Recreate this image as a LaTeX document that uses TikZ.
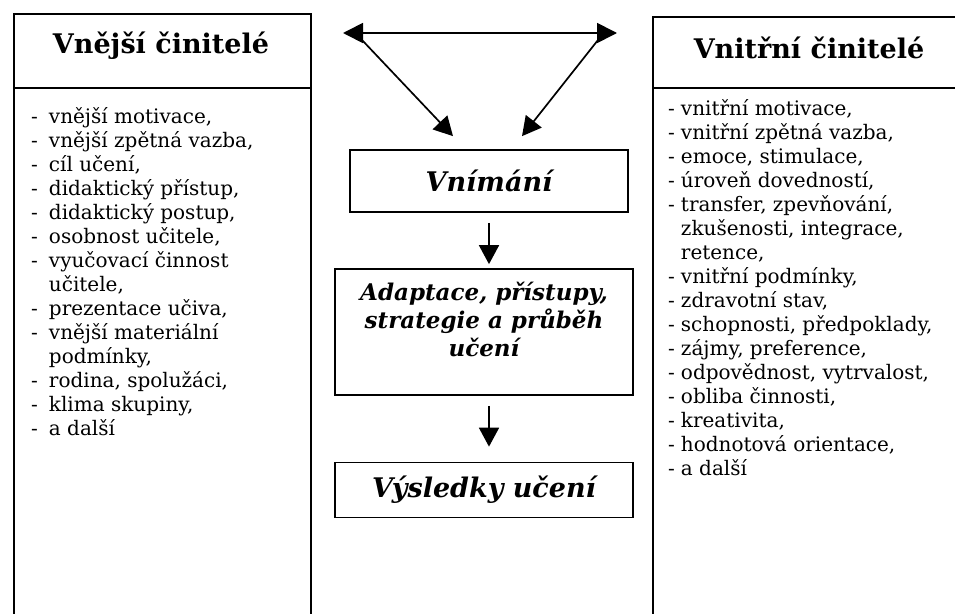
\documentclass[tikz,border=0pt]{standalone}
\usepackage{fontspec}
\setmainfont{DejaVu Serif}
\usetikzlibrary{arrows.meta, positioning}

\tikzset{
  frame/.style={draw, line width=1.7pt},
  headtext/.style={font=\fontsize{27}{30}\selectfont\bfseries, inner sep=0pt},
  listtext/.style={anchor=north west, inner sep=0pt, font=\fontsize{20}{24}\selectfont},
  midbox/.style={draw, line width=1.7pt, align=center, font=\fontsize{23}{28}\selectfont\bfseries\itshape},
  flow/.style={-{Triangle[length=19pt,width=20pt]}, line width=1.7pt}
}

\begin{document}
\begin{tikzpicture}[x=1pt, y=-1pt]

\useasboundingbox (0,0) rectangle (955,613);

% -------- Left column: external factors --------
\node[frame, minimum width=297pt, minimum height=640pt, anchor=north west] (extbox) at (13,13) {};
\draw[line width=1.7pt] (13,88) -- (310,88);
\node[headtext] (exthead) at (161,46) {Vnější činitelé};
\node[listtext] (extlist) at (31,106)
{\begin{tabular}{@{}l@{\hspace{11pt}}l@{}}
- & vnější motivace,\\
- & vnější zpětná vazba,\\
- & cíl učení,\\
- & didaktický přístup,\\
- & didaktický postup,\\
- & osobnost učitele,\\
- & vyučovací činnost\\
  & učitele,\\
- & prezentace učiva,\\
- & vnější materiální\\
  & podmínky,\\
- & rodina, spolužáci,\\
- & klima skupiny,\\
- & a další
\end{tabular}};

% -------- Right column: internal factors --------
\node[frame, minimum width=314pt, minimum height=640pt, anchor=north west] (intbox) at (652,16) {};
\draw[line width=1.7pt] (652,88) -- (966,88);
\node[headtext] (inthead) at (809,48) {Vnitřní činitelé};
\node[listtext] (intlist) at (668,98)
{\begin{tabular}{@{}l@{\hspace{6pt}}l@{}}
- & vnitřní motivace,\\
- & vnitřní zpětná vazba,\\
- & emoce, stimulace,\\
- & úroveň dovedností,\\
- & transfer, zpevňování,\\
  & zkušenosti, integrace,\\
  & retence,\\
- & vnitřní podmínky,\\
- & zdravotní stav,\\
- & schopnosti, předpoklady,\\
- & zájmy, preference,\\
- & odpovědnost, vytrvalost,\\
- & obliba činnosti,\\
- & kreativita,\\
- & hodnotová orientace,\\
- & a další
\end{tabular}};

% -------- Middle: process --------
\node[midbox, minimum width=278pt, minimum height=62pt, font=\fontsize{27}{30}\selectfont\bfseries\itshape] (vnim) at (489,181) {Vnímání};
\node[midbox, minimum width=298pt, minimum height=126pt] (adapt) at (484,332)
{Adaptace, přístupy,\\strategie a průběh\\učení\\[-10pt]\strut};
\node[midbox, minimum width=298pt, minimum height=55pt, font=\fontsize{27}{30}\selectfont\bfseries\itshape] (vysl) at (484,490) {Výsledky učení};

% -------- Arrows --------
\coordinate (extend) at (343,33);
\coordinate (intend) at (617,33);
\coordinate (extfoot) at (362,40);
\coordinate (intfoot) at (598,40);
\coordinate (vinL) at ([xshift=-36pt,yshift=13pt]vnim.north);
\coordinate (vinR) at ([xshift=33pt,yshift=13pt]vnim.north);

\draw[flow, {Triangle[length=20pt,width=20pt]}-{Triangle[length=20pt,width=20pt]}] (extend) -- (intend);
\draw[flow] (extfoot) -- (vinL);
\draw[flow] (intfoot) -- (vinR);
\draw[flow, shorten <=10pt, shorten >=4pt] (vnim.south) -- (vnim.south |- adapt.north);
\draw[flow, shorten <=10pt, shorten >=15pt] (vnim.south |- adapt.south) -- (vnim.south |- vysl.north);

\end{tikzpicture}
\end{document}
